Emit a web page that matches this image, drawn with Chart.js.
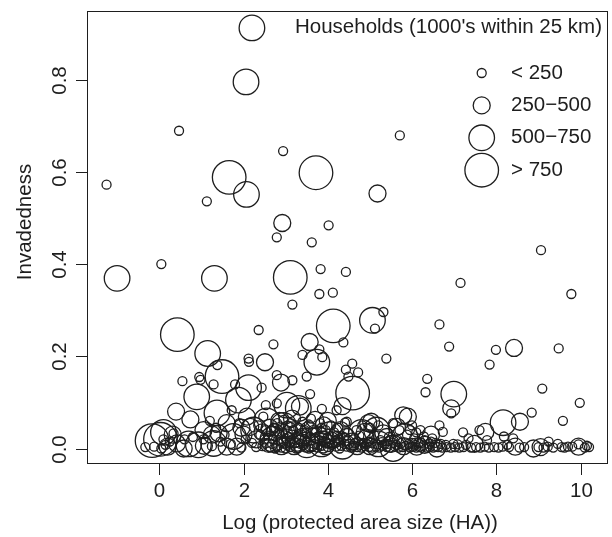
<!DOCTYPE html>
<html>
<head>
<meta charset="utf-8">
<script src="https://cdn.jsdelivr.net/npm/chart.js@4.4.1/dist/chart.umd.min.js"></script>
<style>
html, body { margin: 0; padding: 0; background: #fff; }
</style>
</head>
<body>
<canvas id="chart" width="612" height="537"></canvas>
<script>
// household classes (1000's within 25 km)
const classLabels = ['< 250', '250\u2212500', '500\u2212750', '> 750'];

// [log protected area size, invadedness]
const pointsLt250 = [
    [-1.25, 0.572], [0.47, 0.689], [2.94, 0.645], [1.13, 0.536], [4.02, 0.484], [2.79, 0.458], [3.62, 0.447],
    [5.71, 0.679], [0.05, 0.400], [3.83, 0.389], [4.43, 0.383], [3.80, 0.335], [4.12, 0.338], [3.16, 0.312],
    [2.36, 0.257], [2.71, 0.226], [4.37, 0.230], [3.40, 0.203], [3.80, 0.215], [3.87, 0.198], [2.12, 0.195],
    [2.13, 0.188], [1.38, 0.181], [0.55, 0.146], [0.95, 0.155], [0.98, 0.149], [2.79, 0.159], [3.16, 0.148],
    [2.43, 0.132], [9.06, 0.430], [7.15, 0.359], [9.78, 0.335], [5.32, 0.296], [5.12, 0.260], [6.65, 0.269],
    [6.88, 0.221], [7.99, 0.214], [9.48, 0.217], [7.84, 0.182], [5.39, 0.195], [4.58, 0.184], [4.43, 0.171],
    [4.72, 0.165], [4.49, 0.156], [6.36, 0.151], [6.32, 0.122], [6.93, 0.076], [9.09, 0.130], [9.98, 0.099],
    [8.84, 0.078], [9.58, 0.060], [7.60, 0.040],
    [1.29, 0.139], [1.80, 0.139], [3.50, 0.156], [3.58, 0.118], [2.53, 0.094], [2.79, 0.098], [3.86, 0.086],
    [4.21, 0.083], [4.41, 0.056], [2.47, 0.069], [1.72, 0.083],
    [6.73, 0.036], [7.21, 0.035], [7.34, 0.022], [6.28, 0.026], [6.48, 0.022], [4.45, 0.058], [7.78, 0.018],
    [8.18, 0.026], [8.40, 0.022], [8.26, 0.008], [9.24, 0.015], [9.46, 0.010], [9.70, 0.004], [9.95, 0.009],
    [10.15, 0.006], [10.20, 0.003],
    [6.62, 0.003], [6.72, 0.002], [6.82, 0.003], [6.92, 0.002], [7.02, 0.003], [7.12, 0.002], [7.22, 0.003],
    [7.40, 0.002], [7.52, 0.003], [7.62, 0.002], [7.72, 0.004], [7.82, 0.002], [7.95, 0.003], [8.05, 0.002],
    [8.15, 0.004], [8.30, 0.003], [8.55, 0.002], [8.66, 0.003], [9.00, 0.003], [9.12, 0.002], [9.22, 0.004],
    [9.35, 0.002], [9.55, 0.003], [9.62, 0.002], [9.80, 0.004], [10.10, 0.002],
    [4.45, 0.004], [4.55, 0.002], [4.62, 0.006], [4.70, 0.003], [4.80, 0.002], [4.88, 0.005], [4.98, 0.003],
    [5.05, 0.002], [5.15, 0.004], [5.22, 0.002], [5.30, 0.006], [5.40, 0.003], [5.48, 0.002], [5.60, 0.004],
    [5.68, 0.002], [5.78, 0.003], [5.85, 0.006], [5.95, 0.002], [6.02, 0.004], [6.10, 0.002], [6.18, 0.003],
    [6.26, 0.005], [6.34, 0.002], [6.42, 0.003], [6.50, 0.002], [6.56, 0.004],
    [4.60, 0.020], [4.75, 0.028], [4.95, 0.015], [5.10, 0.030], [5.25, 0.018], [5.45, 0.025], [5.65, 0.020],
    [5.88, 0.030], [6.05, 0.022], [6.15, 0.012], [6.40, 0.010], [5.00, 0.045], [4.85, 0.012], [5.35, 0.010],
    [5.70, 0.040], [6.20, 0.040],
    [4.50, 0.010], [4.65, 0.012], [4.78, 0.008], [4.92, 0.010], [5.02, 0.012], [5.18, 0.009], [5.28, 0.014],
    [5.42, 0.010], [5.55, 0.012], [5.62, 0.008], [5.75, 0.012], [5.92, 0.010], [6.00, 0.012], [6.08, 0.008],
    [6.22, 0.012], [6.30, 0.018], [6.45, 0.015], [6.55, 0.012], [6.68, 0.010], [6.80, 0.008], [6.98, 0.010],
    [7.08, 0.009], [7.28, 0.008], [4.68, 0.040], [4.82, 0.050], [5.20, 0.050], [5.55, 0.055], [6.00, 0.050],
    [6.65, 0.050], [5.95, 0.040], [6.10, 0.035],
    [2.45, 0.005], [2.55, 0.012], [2.62, 0.003], [2.70, 0.020], [2.78, 0.006], [2.85, 0.030], [2.90, 0.002],
    [2.95, 0.015], [3.02, 0.008], [3.08, 0.025], [3.12, 0.003], [3.18, 0.040], [3.22, 0.012], [3.28, 0.004],
    [3.32, 0.020], [3.38, 0.030], [3.42, 0.008], [3.48, 0.002], [3.52, 0.015], [3.58, 0.025], [3.62, 0.005],
    [3.68, 0.010], [3.72, 0.035], [3.75, 0.002], [3.80, 0.018], [3.85, 0.006], [3.90, 0.028], [3.95, 0.012],
    [4.00, 0.003], [4.05, 0.020], [4.10, 0.008], [4.15, 0.035], [4.20, 0.004], [4.25, 0.015], [4.32, 0.006],
    [4.38, 0.025], [2.65, 0.040], [2.88, 0.048], [3.05, 0.050], [3.30, 0.045], [3.55, 0.052], [3.85, 0.045],
    [4.08, 0.050], [2.58, 0.028], [3.65, 0.040], [3.95, 0.040], [2.75, 0.000], [3.00, 0.000], [3.25, 0.000],
    [3.55, 0.000], [3.90, 0.000], [4.28, 0.000],
    [2.50, 0.020], [2.68, 0.010], [2.82, 0.018], [2.92, 0.035], [3.00, 0.022], [3.10, 0.012], [3.15, 0.030],
    [3.25, 0.025], [3.35, 0.010], [3.45, 0.020], [3.50, 0.035], [3.60, 0.018], [3.70, 0.022], [3.78, 0.008],
    [3.88, 0.015], [3.98, 0.022], [4.02, 0.010], [4.12, 0.025], [4.18, 0.012], [4.22, 0.028], [4.30, 0.018],
    [4.40, 0.010], [2.72, 0.045], [3.40, 0.058], [3.12, 0.055], [3.82, 0.055], [4.25, 0.045], [2.95, 0.062],
    [3.60, 0.065], [2.52, 0.040], [3.05, 0.035], [3.45, 0.040], [3.88, 0.035], [4.48, 0.035], [2.40, 0.030],
    [2.80, 0.055],
    [1.05, 0.020], [1.25, 0.005], [1.45, 0.015], [1.55, 0.030], [1.70, 0.010], [1.95, 0.002], [2.05, 0.020],
    [2.20, 0.012], [2.30, 0.003], [1.20, 0.060], [1.90, 0.055], [2.35, 0.050], [0.80, 0.025], [1.35, 0.045],
    [-0.33, 0.003], [-0.12, 0.004], [0.10, 0.020], [0.34, 0.033], [0.05, 0.000], [0.25, 0.015], [0.15, 0.008],
    [0.60, 0.020]
];

const points250to500 = [
    [2.92, 0.489], [5.18, 0.553], [3.57, 0.231], [2.51, 0.187], [2.89, 0.143], [8.42, 0.218], [6.93, 0.087],
    [8.56, 0.058], [7.74, 0.036],
    [0.40, 0.080], [0.74, 0.063], [3.34, 0.091], [4.35, 0.092], [1.60, 0.055], [2.08, 0.069], [1.05, 0.040],
    [2.16, 0.047], [5.79, 0.072], [5.90, 0.069], [5.03, 0.058], [4.96, 0.055], [4.88, 0.036], [5.32, 0.033],
    [5.64, 0.047], [6.11, 0.004], [6.59, 0.000], [4.57, 0.015], [4.90, 0.022], [8.88, 0.000],
    [0.20, 0.004], [0.42, 0.011], [0.58, 0.000], [0.32, 0.030],
    [1.06, 0.006], [1.41, 0.033], [1.60, 0.004], [1.84, 0.004], [2.00, 0.030], [2.45, 0.035], [1.25, 0.030],
    [1.95, 0.045], [2.30, 0.020],
    [2.60, 0.010], [2.75, 0.035], [2.98, 0.020], [3.20, 0.005], [3.40, 0.025], [3.60, 0.012], [3.78, 0.030],
    [3.95, 0.005], [4.15, 0.020], [2.85, 0.060], [3.15, 0.065], [3.70, 0.062], [4.00, 0.060], [4.30, 0.040],
    [5.50, 0.010], [6.30, 0.008],
    [2.62, 0.045], [3.05, 0.040], [3.55, 0.040], [3.90, 0.050], [4.45, 0.025], [4.70, 0.005], [5.00, 0.005],
    [5.40, 0.025], [5.80, 0.005], [6.45, 0.030], [3.30, 0.010], [2.90, 0.005], [7.48, 0.010], [8.45, 0.004],
    [9.05, 0.003], [9.95, 0.004]
];

const points500to750 = [
    [2.20, 0.912], [2.06, 0.795], [2.07, 0.551], [-1.00, 0.369], [1.31, 0.369], [1.15, 0.206], [3.74, 0.187],
    [5.06, 0.278], [6.99, 0.118], [8.16, 0.056],
    [2.12, 0.132], [0.89, 0.112], [1.88, 0.105], [3.03, 0.094], [1.37, 0.077], [3.30, 0.087], [5.83, 0.026],
    [5.55, 0.000], [5.16, 0.040], [0.93, 0.008], [1.29, 0.011], [1.76, 0.026], [2.24, 0.040], [2.70, 0.020],
    [3.20, 0.030], [3.50, 0.008], [4.05, 0.030], [4.35, 0.005], [5.20, 0.010], [2.55, 0.060], [0.10, 0.035],
    [2.95, 0.050], [3.85, 0.010], [4.80, 0.035], [0.70, 0.010]
];

const pointsGt750 = [
    [1.66, 0.588], [3.72, 0.598], [3.11, 0.371], [4.13, 0.266], [0.43, 0.247], [1.49, 0.156], [4.59, 0.120],
    [-0.17, 0.017], [0.03, 0.020]
];

const xTicks = [0, 2, 4, 6, 8, 10];
const yTicks = [0, 0.2, 0.4, 0.6, 0.8];

const classRadius = [4.5, 8.5, 12.8, 16.8];
const ink = '#1e1e1e';
const font = '20.5px "Liberation Sans", Arial, sans-serif';

const rStyleAxes = {
    id: 'rStyleAxes',
    afterDraw(chart) {
        const { ctx, chartArea: a, scales: { x, y } } = chart;
        ctx.save();
        ctx.strokeStyle = ink;
        ctx.fillStyle = ink;
        ctx.lineWidth = 1;
        ctx.strokeRect(Math.round(a.left) + 0.5, Math.round(a.top) + 0.5,
            Math.round(a.right - a.left) - 1, Math.round(a.bottom - a.top) - 1);

        ctx.font = font;
        ctx.textAlign = 'center';
        ctx.textBaseline = 'middle';
        xTicks.forEach(v => {
            const px = Math.round(x.getPixelForValue(v)) + 0.5;
            ctx.beginPath();
            ctx.moveTo(px, a.bottom);
            ctx.lineTo(px, a.bottom + 11);
            ctx.stroke();
            ctx.fillText(String(v), px, a.bottom + 27);
        });
        yTicks.forEach(v => {
            const py = Math.round(y.getPixelForValue(v)) + 0.5;
            ctx.beginPath();
            ctx.moveTo(a.left - 11, py);
            ctx.lineTo(a.left, py);
            ctx.stroke();
            ctx.save();
            ctx.translate(a.left - 27, py);
            ctx.rotate(-Math.PI / 2);
            ctx.fillText(v.toFixed(1), 0, 0);
            ctx.restore();
        });

        // axis titles sit a little off the plot centre in the original
        ctx.fillText('Log (protected area size (HA))', 360, a.bottom + 59);
        ctx.save();
        ctx.translate(25, 222);
        ctx.rotate(-Math.PI / 2);
        ctx.fillText('Invadedness', 0, 0);
        ctx.restore();

        // legend
        ctx.fillText("Households (1000's within 25 km)", 448.5, 27);
        ctx.textAlign = 'left';
        classLabels.forEach((label, i) => {
            const ly = 73 + i * 32.4;
            ctx.beginPath();
            ctx.lineWidth = 1.3;
            ctx.arc(481.7, ly, classRadius[i], 0, Math.PI * 2);
            ctx.stroke();
            ctx.fillText(label, 511, ly);
        });
        ctx.restore();
    }
};

const groups = [pointsLt250, points250to500, points500to750, pointsGt750];

new Chart(document.getElementById('chart'), {
    type: 'scatter',
    data: {
        datasets: groups.map((pts, i) => ({
            label: classLabels[i],
            data: pts.map(p => ({ x: p[0], y: p[1] })),
            pointRadius: classRadius[i],
            pointBorderWidth: 1.3,
            pointBorderColor: ink,
            pointBackgroundColor: 'rgba(0,0,0,0)',
            showLine: false
        }))
    },
    options: {
        responsive: false,
        animation: false,
        events: [],
        layout: { autoPadding: false, padding: { left: 87, right: 4, top: 11, bottom: 73 } },
        plugins: {
            legend: { display: false },
            tooltip: { enabled: false }
        },
        scales: {
            x: { type: 'linear', display: false, min: -1.714, max: 10.65 },
            y: { type: 'linear', display: false, min: -0.0336, max: 0.9487 }
        }
    },
    plugins: [rStyleAxes]
});
</script>
</body>
</html>
